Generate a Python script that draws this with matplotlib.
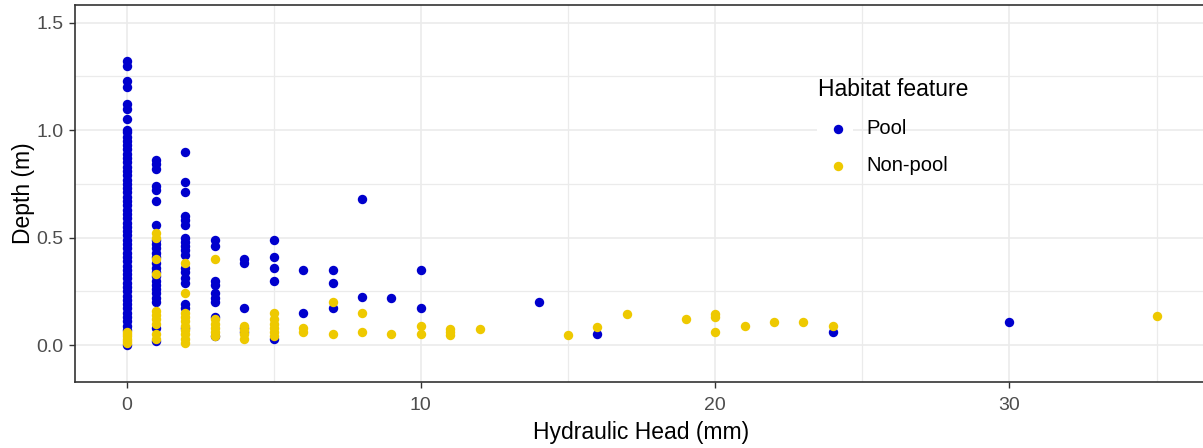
import matplotlib.pyplot as plt
from matplotlib.patches import Rectangle

plt.rcParams['font.family'] = ['Liberation Sans', 'DejaVu Sans']

# Depth readings (m) grouped by hydraulic head (mm)
pool_heads = [0, 1, 2, 3, 4, 5, 6, 7, 8, 9, 10, 14, 16, 24, 30]
pool_depths = [
    [1.32, 1.30, 1.23, 1.20, 1.12, 1.10, 1.05, 1.00, 0.99, 0.97, 0.95, 0.93,
     0.91, 0.89, 0.87, 0.85, 0.83, 0.81, 0.79, 0.77, 0.75, 0.73, 0.71, 0.69,
     0.67, 0.65, 0.63, 0.61, 0.59, 0.57, 0.55, 0.53, 0.51, 0.49, 0.47, 0.45,
     0.43, 0.41, 0.39, 0.37, 0.35, 0.33, 0.31, 0.29, 0.27, 0.25, 0.23, 0.21,
     0.19, 0.17, 0.15, 0.13, 0.11, 0.09, 0.07, 0.0],
    [0.86, 0.84, 0.82, 0.74, 0.72, 0.67, 0.56, 0.49, 0.47, 0.45, 0.43, 0.41,
     0.38, 0.36, 0.34, 0.32, 0.30, 0.28, 0.26, 0.24, 0.22, 0.20, 0.08, 0.02],
    [0.90, 0.76, 0.71, 0.60, 0.58, 0.56, 0.50, 0.48, 0.46, 0.44, 0.42, 0.36,
     0.34, 0.31, 0.29, 0.19, 0.17, 0.08],
    [0.49, 0.46, 0.30, 0.28, 0.24, 0.22, 0.20, 0.13, 0.04],
    [0.40, 0.38, 0.17, 0.08, 0.06],
    [0.49, 0.41, 0.36, 0.30, 0.03],
    [0.35, 0.15],
    [0.35, 0.29, 0.17],
    [0.68, 0.225],
    [0.22],
    [0.35, 0.17],
    [0.20],
    [0.05],
    [0.06],
    [0.105],
]
nonpool_heads = [0, 1, 2, 3, 4, 5, 6, 7, 8, 9, 10, 11, 12, 15, 16, 17, 19,
                 20, 21, 22, 23, 24, 35]
nonpool_depths = [
    [0.06, 0.05, 0.04, 0.03, 0.02, 0.01],
    [0.52, 0.50, 0.40, 0.33, 0.16, 0.14, 0.12, 0.10, 0.05, 0.03],
    [0.38, 0.24, 0.15, 0.13, 0.11, 0.09, 0.07, 0.05, 0.03, 0.01],
    [0.40, 0.12, 0.10, 0.08, 0.06, 0.04],
    [0.09, 0.07, 0.05, 0.03],
    [0.15, 0.12, 0.10, 0.08, 0.06, 0.04],
    [0.08, 0.06],
    [0.20, 0.05],
    [0.15, 0.06],
    [0.05],
    [0.09, 0.05],
    [0.075, 0.06, 0.045],
    [0.075],
    [0.045],
    [0.085],
    [0.145],
    [0.12],
    [0.145, 0.13, 0.06],
    [0.09],
    [0.105],
    [0.105],
    [0.09],
    [0.135],
]


def flatten(heads, depths):
    xs, ys = [], []
    for h, ds in zip(heads, depths):
        xs += [h] * len(ds)
        ys += ds
    return xs, ys


pool_x, pool_y = flatten(pool_heads, pool_depths)
nonpool_x, nonpool_y = flatten(nonpool_heads, nonpool_depths)

W, H = 1203, 448
fig = plt.figure(figsize=(W / 100, H / 100), dpi=100)
ax = fig.add_axes([75 / W, (H - 382) / H, (1208 - 75) / W, (382 - 5) / H])

ax.scatter(pool_x, pool_y, s=46, color='#0000CD', linewidths=0,
           label='Pool', zorder=2)
ax.scatter(nonpool_x, nonpool_y, s=46, color='#EEC900', linewidths=0,
           label='Non-pool', zorder=2)

ax.set_xlim(-1.75, 36.75)
ax.set_ylim(-0.172, 1.582)
ax.set_xticks([0, 10, 20, 30])
ax.set_xticks([5, 15, 25, 35], minor=True)
ax.set_yticks([0, 0.5, 1.0, 1.5])
ax.set_yticklabels(['0.0', '0.5', '1.0', '1.5'])
ax.set_yticks([0.25, 0.75, 1.25], minor=True)

ax.set_axisbelow(True)
ax.grid(which='major', color='#EBEBEB', linewidth=1.2)
ax.grid(which='minor', color='#EBEBEB', linewidth=0.9)
ax.tick_params(which='major', length=4.3, width=1.0, color='#333333',
               labelcolor='#4D4D4D', labelsize=14)
ax.tick_params(axis='x', pad=6.5)
ax.tick_params(axis='y', pad=4)
ax.tick_params(which='minor', length=0)
for s in ax.spines.values():
    s.set_color('#333333')
    s.set_linewidth(1.2)

ax.set_xlabel('Hydraulic Head (mm)', fontsize=16.5, labelpad=5)
ax.set_ylabel('Depth (m)', fontsize=16.5, labelpad=1)

# white legend key backgrounds (as in the ggplot theme)
ax.add_patch(Rectangle((817 / W, (H - 181) / H), 36 / W, 72 / H,
                       transform=fig.transFigure, facecolor='white',
                       edgecolor='none', zorder=1))

leg = ax.legend(title='Habitat feature', loc='upper left',
                bbox_to_anchor=(782 / W, (H - 42) / H),
                bbox_transform=fig.transFigure, frameon=False,
                fontsize=14.5, title_fontsize=16.5, scatterpoints=1,
                handletextpad=0.4, labelspacing=0.89, borderpad=1.3,
                alignment='left')

fig.savefig('out.png', dpi=100)
